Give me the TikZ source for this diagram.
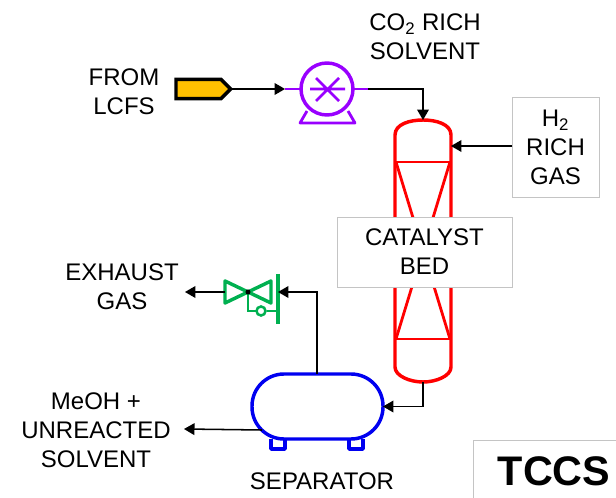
\documentclass[tikz,border=0pt]{standalone}
\usepackage{fontspec}
\setmainfont{Liberation Sans}
\usetikzlibrary{shapes,arrows,positioning}

\begin{document}
\begin{tikzpicture}[%
    x=0.75pt, y=-0.75pt,        % Reference pixels as units
    >=triangle 60,
    ]
% -------------------------------------------------
% A few styles
\tikzset{
  txt/.style={align=center, inner sep=0pt, font=\fontsize{18}{21.75}\selectfont},
  box/.style={draw=boxgray, line width=0.65pt, fill=white, inner sep=0pt, outer sep=0pt},
  flow/.style={->, draw=black, line width=1.15pt},
  eqp/.style={line width=2.6pt, line join=round},
  source/.style={signal, signal to=east, draw=black, fill=tagyellow, line width=2.6pt,
    minimum width=41pt, minimum height=14.5pt, inner sep=0pt, outer sep=0pt},
  pumpbody/.style={circle, eqp, draw=pumppurple, minimum size=39pt, inner sep=0pt, outer sep=0pt},
  vessel/.style={rectangle, eqp, draw=sepblue, rounded corners=24pt, minimum width=98.25pt,
    minimum height=48.75pt, inner sep=0pt, outer sep=0pt},
}
\definecolor{boxgray}{HTML}{C4C4C4}
\definecolor{tagyellow}{HTML}{FFC000}
\definecolor{pumppurple}{HTML}{9900FF}
\definecolor{sepblue}{HTML}{0000F0}
\definecolor{colred}{HTML}{FF0000}
\definecolor{valvegreen}{HTML}{00B050}

\useasboundingbox (0,0) rectangle (616,498);
% -------------------------------------------------
% Column
\draw [eqp, colred] (395,135) .. controls (395,124) and (410,120) .. (423,120)
  .. controls (436,120) and (451,124) .. (451,135) -- (451,367)
  .. controls (451,376) and (436,382) .. (423,382)
  .. controls (410,382) and (395,376) .. (395,367) -- cycle;
\draw [colred, line width=2.1pt] (396,162) -- (450,162) (396,339) -- (450,339);
\draw [colred, line width=2.1pt] (396,162) -- (450,339) (450,162) -- (396,339);
\coordinate (coltop) at (423,120);
\coordinate (colbot) at (423,382);
\coordinate (colside) at (451,146);

% Start by placing the nodes
\node [box, minimum width=131.25pt, minimum height=52.5pt, txt] (bed) at (424.5,252) {CATALYST\\BED};
\node [box, minimum width=65.25pt, minimum height=74.6pt, txt, anchor=north west] (h2) at (512,97.5)
  {H\textsubscript{2}\\RICH\\GAS};
\node [source] (tag) at (198.5,89) {};
\node [pumpbody] (pump) at (327,89) {};
\node [vessel] (sep) at (317.5,406.5) {};

% Pump details
\coordinate (pumpin) at (285,89);
\coordinate (pumpout) at (368,89);
\draw [pumppurple, line width=2.1pt] (pumpin) -- (pump.west) (pump.east) -- (pumpout);
\draw [pumppurple, line width=2.1pt] (310,89) -- (345,89) (316,78) -- (339,101) (316,101) -- (339,78);
\draw [pumppurple, line width=2.1pt, line join=round] (307,111) -- (300,123) -- (355,123) -- (348,111);

% Separator feet
\draw [eqp, sepblue] (271,439) -- (271,449) -- (285,449) -- (285,439);
\draw [eqp, sepblue] (349,439) -- (349,449) -- (363,449) -- (363,439);
\coordinate (sepout) at (262,430);
\coordinate (septop) at (317,374);

% Valve
\coordinate (vin) at (278,292);
\coordinate (vout) at (225,292);
\coordinate (vcenter) at (248,292);
\draw [eqp, valvegreen] (vout) -- (225,281) -- (271,303) -- (271,281) -- (225,303) -- cycle;
\draw [eqp, valvegreen] (278,274) -- (278,324);
\draw [valvegreen, line width=1.9pt] (vcenter) -- (248,311) -- (256,311);
\node [circle, draw=valvegreen, line width=1.9pt, minimum size=6.75pt, inner sep=0pt] (stem) at (261,311) {};
\draw [valvegreen, line width=1.9pt] (stem) -- (278,311);
\fill [black] (vcenter) circle (1.9pt);

% Labels
\node [txt] (lcfs) at (124,92) {FROM\\LCFS};
\node [txt] (rich) at (425,37) {CO\textsubscript{2} RICH\\SOLVENT};
\node [txt] (exhaust) at (122,287) {EXHAUST\\GAS};
\node [txt] (meoh) at (96,430) {MeOH +\\UNREACTED\\SOLVENT};
\node [txt] (seplabel) at (322,481) {SEPARATOR};
\node [txt, font=\fontsize{31}{36}\selectfont\bfseries] (tccs) at (554,471) {TCCS};
\draw [draw=boxgray, line width=0.65pt] (473,498) |- (616,440);

% Connections
\coordinate (exh) at (185,292);
\coordinate (liq) at (184,429);
\draw [flow] (tag.east) -- (pumpin);
\draw [flow] (pumpout) -| (coltop);
\draw [flow] (h2.west |- colside) -- (colside);
\draw [flow] (colbot) |- (sep.east);
\draw [flow] (septop) |- (vin);
\draw [flow] (vout) -- (exh);
\draw [flow] (sepout) -- (liq);
% -------------------------------------------------
\end{tikzpicture}
\end{document}
